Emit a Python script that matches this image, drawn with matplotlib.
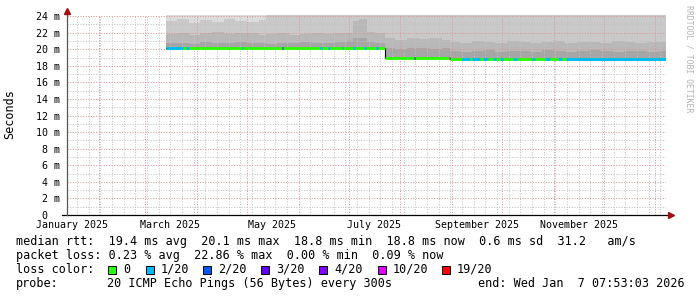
import datetime as dt
import numpy as np
import matplotlib
matplotlib.use("Agg")
from matplotlib import pyplot as plt
from matplotlib.patches import Rectangle

# x os: dani od 1.1.2025. (00:00)
t_start = 12.0
t_end = 371.33  # Wed Jan 7 07:53:03 2026

# medijan rtt u ms, po razdobljima
med_break = [71.6, 202.6, 241.9, 371.33]
med_level = [20.1, 19.0, 18.8]

# odsjecci s gubitkom paketa (boja medijana)
loss_start = [71.6, 83.4, 117.0, 141.0, 163.9, 168.7, 176.9, 183.7, 190.3, 197.5,
              219.9, 241.2, 248.9, 254.9, 261.7, 267.7, 271.9, 279.7, 291.1, 298.9,
              306.7, 311.5]
loss_end = [81.8, 85.4, 117.8, 141.8, 164.7, 169.5, 177.7, 184.5, 191.1, 198.3,
            220.7, 241.9, 253.9, 259.9, 264.7, 269.5, 273.7, 282.1, 292.9, 301.9,
            309.1, 371.33]
loss_code = ["1/20", "1/20", "1/20", "3/20", "1/20", "1/20", "1/20", "1/20", "1/20", "1/20",
             "3/20", "10/20", "1/20", "1/20", "1/20", "1/20", "1/20", "1/20", "1/20", "1/20",
             "1/20", "1/20"]

loss_names = ["0", "1/20", "2/20", "3/20", "4/20", "10/20", "19/20"]
loss_colors = ["#26ff00", "#00b8ff", "#0059ff", "#5e00ff", "#7e00ff", "#dd00ff", "#ff0000"]

# "dim" (smoke) - granice slojeva iznad medijana, ms
smoke_days = [71.6, 78, 85, 92, 99, 106, 113, 120, 127, 131.5, 138, 145, 152, 159, 166,
              173, 180, 183.5, 187, 192, 197, 202.6, 209, 216, 223, 230, 237, 241.9,
              248, 255, 262, 269, 276, 283, 290, 297, 304, 311, 318, 325, 332, 339, 346,
              353, 360, 367, 371.33]
smoke_b1 = [20.7, 20.8, 20.6, 20.9, 20.7, 20.8, 20.9, 20.7, 20.8, 20.6, 20.8, 20.7, 20.9,
            20.8, 20.7, 20.9, 21.0, 21.3, 21.4, 20.9, 20.8,
            20.1, 20.0, 20.2, 20.1, 20.0, 20.1,
            19.8, 19.7, 19.8, 19.9, 19.7, 19.8, 19.8, 19.7, 19.9, 19.8, 19.7, 19.8, 19.9,
            19.8, 19.7, 19.8, 19.8, 19.7, 19.8, 19.8]
smoke_b2 = [21.8, 22.0, 21.7, 21.9, 22.1, 21.8, 21.9, 22.0, 21.7, 21.8, 21.9, 21.7, 21.8,
            22.0, 21.8, 21.9, 22.0, 23.4, 23.6, 22.1, 21.9,
            21.3, 21.1, 21.4, 21.2, 21.3, 21.1,
            20.9, 20.8, 21.0, 20.9, 20.8, 21.0, 20.9, 20.8, 20.9, 21.0, 20.8, 20.9, 20.9,
            20.8, 21.0, 20.9, 20.8, 20.9, 20.9, 20.9]
smoke_b3 = [23.4, 23.6, 23.2, 23.5, 23.3, 23.6, 23.4, 23.3, 23.5] + [25.0] * 38
smoke_max = [25.0] * 47

month_labels = ["January 2025", "March 2025", "May 2025", "July 2025",
                "September 2025", "November 2025"]

W, H = 697, 297
mono = "DejaVu Sans Mono"

fig = plt.figure(figsize=(W / 100, H / 100), dpi=100)
ax = fig.add_axes([67 / W, (H - 215) / H, 599 / W, 200 / H])
ax.set_xlim(t_start, t_end)
ax.set_ylim(0, 24.13)

days = np.array(smoke_days)
idx = np.clip(np.searchsorted(med_break, days, side="right") - 1, 0, 2)
base = np.array(med_level)[idx]
layers = [base, smoke_b1, smoke_b2, smoke_b3, smoke_max]
shades = ["#a6a6a6", "#b8b8b8", "#c9c9c9", "#dcdcdc"]
for lo, hi, c in zip(layers[:-1], layers[1:], shades):
    ax.fill_between(days, lo, hi, step="post", color=c, lw=0, zorder=1)

# mreza
d0 = dt.date(2025, 1, 1)
months = [(dt.date(2025 + (m - 1) // 12, (m - 1) % 12 + 1, 1) - d0).days for m in range(2, 14)]
sundays = [d for d in range(18, 372, 7) if d not in months]
ax.set_xticks(months)
ax.set_xticks(sundays, minor=True)
ax.set_yticks(np.arange(0, 25, 2))
ax.set_yticks(np.arange(1, 25, 2), minor=True)
ax.set_yticklabels(["0  "] + [f"{v} m" for v in range(2, 25, 2)])
ax.set_xticklabels([])
ax.tick_params(which="both", length=0)
ax.tick_params(axis="y", pad=5, labelsize=7.2)
for lab in ax.get_yticklabels():
    lab.set_fontfamily(mono)
ax.set_axisbelow(False)
ax.grid(which="major", color="#df9494", linestyle=(0, (1, 1.6)), linewidth=0.72)
ax.grid(which="minor", color="#c2c2c2", linestyle=(0, (1, 1.6)), linewidth=0.72)
for s in ax.spines.values():
    s.set_visible(False)

# medijan
ax.step(med_break, med_level + [med_level[-1]], where="post", color="black", lw=0.8, zorder=3)
for i in range(len(med_level)):
    ax.hlines(med_level[i], med_break[i], med_break[i + 1], color=loss_colors[0], lw=2.0, zorder=4)
for s, e, c in zip(loss_start, loss_end, loss_code):
    k = np.clip(np.searchsorted(med_break, s, side="right") - 1, 0, 2)
    ax.hlines(med_level[k], s, e, color=loss_colors[loss_names.index(c)], lw=2.0, zorder=5)

# osi sa strelicama
ax.plot([-5 / 599, 1.003], [0, 0], transform=ax.transAxes, color="black", lw=0.9, clip_on=False, zorder=6)
ax.plot([0, 0], [0, 1.0], transform=ax.transAxes, color="#555555", lw=0.9, clip_on=False, zorder=6)
ax.plot([1.009], [0], transform=ax.transAxes, marker=">", ms=4, color="#a01010", clip_on=False, zorder=7)
ax.plot([0], [1.02], transform=ax.transAxes, marker="^", ms=4, color="#a01010", clip_on=False, zorder=7)

lab_days = [15] + [months[k] + 15 for k in (1, 3, 5, 7, 9)]
for d, lab in zip(lab_days, month_labels):
    ax.text(d, -9.5 / 200, lab, transform=ax.get_xaxis_transform(), ha="center", va="center",
            family=mono, size=7.2, clip_on=False)

fig.text(10 / W, 1 - 114 / H, "Seconds", rotation=90, ha="center", va="center", family=mono, size=8.5)
fig.text(689 / W, 1 - 5 / H, "RRDTOOL / TOBI OETIKER", rotation=270, ha="center", va="top",
         family=mono, size=5.9, color="#b4b4b4")

def ftext(x, y, s):
    fig.text(x / W, 1 - y / H, s, ha="left", va="center", family=mono, size=8.5)

ftext(16, 241.5, "median rtt:  19.4 ms avg  20.1 ms max  18.8 ms min  18.8 ms now  0.6 ms sd  31.2   am/s")
ftext(16, 255.5, "packet loss: 0.23 % avg  22.86 % max  0.00 % min  0.09 % now")
ftext(16, 269.5, "loss color:")
box_x = [108, 146, 203, 261, 319, 378, 442]
for x, name, c in zip(box_x, loss_names, loss_colors):
    fig.patches.append(Rectangle((x / W, 1 - 273.5 / H), 8 / W, 8 / H, transform=fig.transFigure,
                                 facecolor=c, edgecolor="black", lw=0.7))
    ftext(x + 15, 269.5, name)
ftext(16, 283.5, "probe:")
ftext(107, 283.5, "20 ICMP Echo Pings (56 Bytes) every 300s")
ftext(478, 283.5, "end: Wed Jan  7 07:53:03 2026")

fig.savefig("out.png", dpi=100)
